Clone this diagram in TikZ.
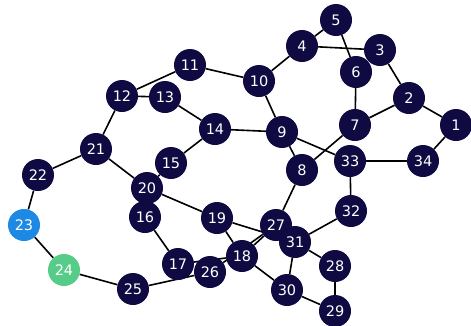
\documentclass[tikz,border=0pt]{standalone}
\usepackage{fontspec}
\setsansfont{DejaVu Sans}
\usepackage{tikz}
\pgfdeclarelayer{back}
\pgfsetlayers{back,main}

\begin{document}
\begin{tikzpicture}[
        x=1pt, y=-1pt,
        vertex/.style={circle, fill=navy, text=white, minimum size=32pt, inner sep=0pt,
            font=\sffamily\fontsize{14.5}{16}\selectfont},
        edge/.style={line width=1.6pt}
    ]
    \definecolor{navy}{HTML}{0F0B42}
    \definecolor{startblue}{HTML}{1E88E5}
    \definecolor{endgreen}{HTML}{55CC88}
    \useasboundingbox (0,0) rectangle (471,325);
    \node[vertex] (v1) at (456,125) {1};
    \node[vertex] (v2) at (409,98) {2};
    \node[vertex] (v3) at (380,50) {3};
    \node[vertex] (v4) at (302,46) {4};
    \node[vertex] (v5) at (336,20) {5};
    \node[vertex] (v6) at (356,72) {6};
    \node[vertex] (v7) at (355,125) {7};
    \node[vertex] (v8) at (302,170) {8};
    \node[vertex] (v9) at (282,132) {9};
    \node[vertex] (v10) at (259,81) {10};
    \node[vertex] (v11) at (190,65) {11};
    \node[vertex] (v12) at (122,96) {12};
    \node[vertex] (v13) at (165,97) {13};
    \node[vertex] (v14) at (215,129) {14};
    \node[vertex] (v15) at (171,163) {15};
    \node[vertex] (v16) at (145,217) {16};
    \node[vertex] (v17) at (178,264) {17};
    \node[vertex] (v18) at (242,256) {18};
    \node[vertex] (v19) at (217,218) {19};
    \node[vertex] (v20) at (147,188) {20};
    \node[vertex] (v21) at (96,149) {21};
    \node[vertex] (v22) at (38,175) {22};
    \node[vertex, fill=startblue] (v23) at (24,225) {23};
    \node[vertex, fill=endgreen] (v24) at (64,270) {24};
    \node[vertex] (v25) at (133,289) {25};
    \node[vertex] (v26) at (210,272) {26};
    \node[vertex] (v27) at (276,225) {27};
    \node[vertex] (v28) at (335,266) {28};
    \node[vertex] (v29) at (335,311) {29};
    \node[vertex] (v30) at (287,290) {30};
    \node[vertex] (v31) at (295,242) {31};
    \node[vertex] (v32) at (351,211) {32};
    \node[vertex] (v33) at (350,161) {33};
    \node[vertex] (v34) at (423,161) {34};
    % edges go under the vertices
    \begin{pgfonlayer}{back}
        \foreach \a/\b in {1/2, 1/34, 2/3, 2/7, 3/4, 4/5, 5/6, 4/10, 6/7, 7/8,
                10/9, 10/11, 11/12, 12/13, 12/21, 13/14, 14/9, 14/15, 15/20,
                9/8, 9/33, 33/34, 33/32, 32/31, 21/22, 21/20, 22/23, 23/24,
                24/25, 25/26, 26/27, 18/27, 8/27, 27/31, 20/16, 16/17, 17/18,
                20/19, 19/18, 19/31, 18/30, 31/30, 31/28, 28/29, 30/29}
            \draw[edge] (v\a) -- (v\b);
    \end{pgfonlayer}
\end{tikzpicture}
\end{document}
